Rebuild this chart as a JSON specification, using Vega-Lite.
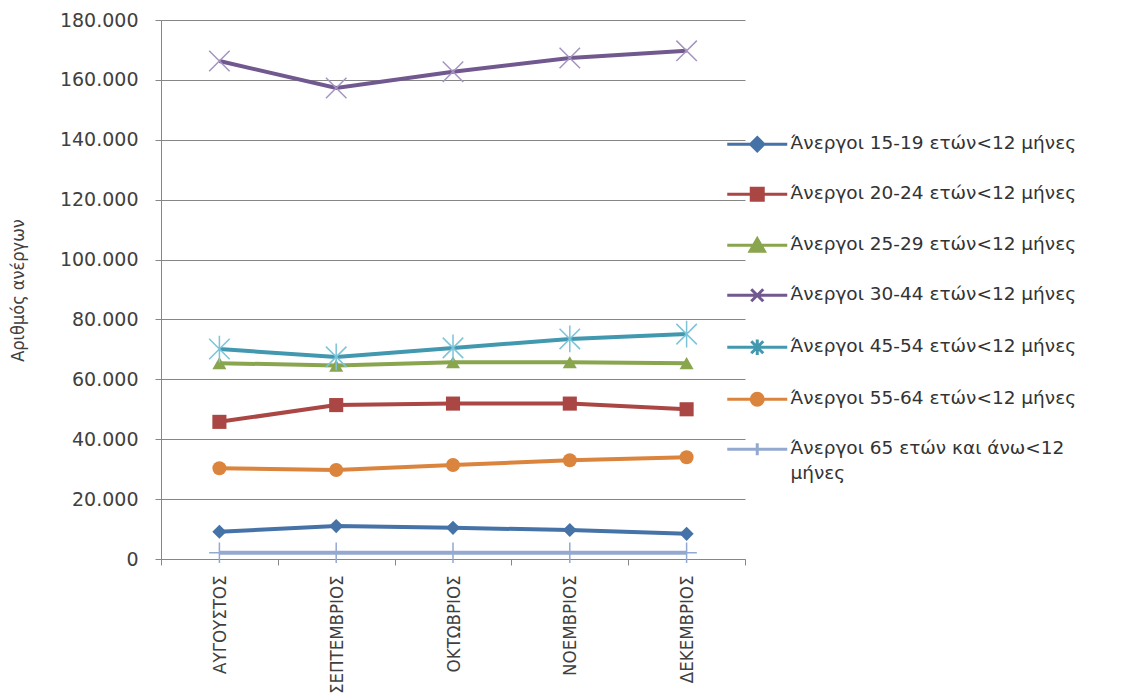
{
  "$schema": "https://vega.github.io/schema/vega-lite/v6.json",
  "autosize": "none",
  "width": 584,
  "height": 539,
  "padding": {"left": 161, "top": 20, "right": 396, "bottom": 134},
  "background": "white",
  "config": {
    "view": {"stroke": null},
    "axis": {"domainColor": "#868686", "tickColor": "#868686", "gridColor": "#868686", "labelColor": "#404040", "titleColor": "#404040"}
  },
  "data": {
    "values": [
      {"month": "ΑΥΓΟΥΣΤΟΣ", "series": "Άνεργοι 15-19 ετών<12 μήνες", "value": 9100},
      {"month": "ΣΕΠΤΕΜΒΡΙΟΣ", "series": "Άνεργοι 15-19 ετών<12 μήνες", "value": 11000},
      {"month": "ΟΚΤΩΒΡΙΟΣ", "series": "Άνεργοι 15-19 ετών<12 μήνες", "value": 10400},
      {"month": "ΝΟΕΜΒΡΙΟΣ", "series": "Άνεργοι 15-19 ετών<12 μήνες", "value": 9700},
      {"month": "ΔΕΚΕΜΒΡΙΟΣ", "series": "Άνεργοι 15-19 ετών<12 μήνες", "value": 8400},
      {"month": "ΑΥΓΟΥΣΤΟΣ", "series": "Άνεργοι 20-24 ετών<12 μήνες", "value": 45800},
      {"month": "ΣΕΠΤΕΜΒΡΙΟΣ", "series": "Άνεργοι 20-24 ετών<12 μήνες", "value": 51400},
      {"month": "ΟΚΤΩΒΡΙΟΣ", "series": "Άνεργοι 20-24 ετών<12 μήνες", "value": 51900},
      {"month": "ΝΟΕΜΒΡΙΟΣ", "series": "Άνεργοι 20-24 ετών<12 μήνες", "value": 51900},
      {"month": "ΔΕΚΕΜΒΡΙΟΣ", "series": "Άνεργοι 20-24 ετών<12 μήνες", "value": 50000},
      {"month": "ΑΥΓΟΥΣΤΟΣ", "series": "Άνεργοι 25-29 ετών<12 μήνες", "value": 65400},
      {"month": "ΣΕΠΤΕΜΒΡΙΟΣ", "series": "Άνεργοι 25-29 ετών<12 μήνες", "value": 64600},
      {"month": "ΟΚΤΩΒΡΙΟΣ", "series": "Άνεργοι 25-29 ετών<12 μήνες", "value": 65700},
      {"month": "ΝΟΕΜΒΡΙΟΣ", "series": "Άνεργοι 25-29 ετών<12 μήνες", "value": 65700},
      {"month": "ΔΕΚΕΜΒΡΙΟΣ", "series": "Άνεργοι 25-29 ετών<12 μήνες", "value": 65400},
      {"month": "ΑΥΓΟΥΣΤΟΣ", "series": "Άνεργοι 30-44 ετών<12 μήνες", "value": 166300},
      {"month": "ΣΕΠΤΕΜΒΡΙΟΣ", "series": "Άνεργοι 30-44 ετών<12 μήνες", "value": 157300},
      {"month": "ΟΚΤΩΒΡΙΟΣ", "series": "Άνεργοι 30-44 ετών<12 μήνες", "value": 162700},
      {"month": "ΝΟΕΜΒΡΙΟΣ", "series": "Άνεργοι 30-44 ετών<12 μήνες", "value": 167300},
      {"month": "ΔΕΚΕΜΒΡΙΟΣ", "series": "Άνεργοι 30-44 ετών<12 μήνες", "value": 169700},
      {"month": "ΑΥΓΟΥΣΤΟΣ", "series": "Άνεργοι 45-54 ετών<12 μήνες", "value": 70100},
      {"month": "ΣΕΠΤΕΜΒΡΙΟΣ", "series": "Άνεργοι 45-54 ετών<12 μήνες", "value": 67500},
      {"month": "ΟΚΤΩΒΡΙΟΣ", "series": "Άνεργοι 45-54 ετών<12 μήνες", "value": 70500},
      {"month": "ΝΟΕΜΒΡΙΟΣ", "series": "Άνεργοι 45-54 ετών<12 μήνες", "value": 73500},
      {"month": "ΔΕΚΕΜΒΡΙΟΣ", "series": "Άνεργοι 45-54 ετών<12 μήνες", "value": 75100},
      {"month": "ΑΥΓΟΥΣΤΟΣ", "series": "Άνεργοι  55-64 ετών<12 μήνες", "value": 30300},
      {"month": "ΣΕΠΤΕΜΒΡΙΟΣ", "series": "Άνεργοι  55-64 ετών<12 μήνες", "value": 29700},
      {"month": "ΟΚΤΩΒΡΙΟΣ", "series": "Άνεργοι  55-64 ετών<12 μήνες", "value": 31400},
      {"month": "ΝΟΕΜΒΡΙΟΣ", "series": "Άνεργοι  55-64 ετών<12 μήνες", "value": 33000},
      {"month": "ΔΕΚΕΜΒΡΙΟΣ", "series": "Άνεργοι  55-64 ετών<12 μήνες", "value": 34000},
      {"month": "ΑΥΓΟΥΣΤΟΣ", "series": "Άνεργοι 65 ετών και άνω<12 μήνες", "value": 2100},
      {"month": "ΣΕΠΤΕΜΒΡΙΟΣ", "series": "Άνεργοι 65 ετών και άνω<12 μήνες", "value": 2100},
      {"month": "ΟΚΤΩΒΡΙΟΣ", "series": "Άνεργοι 65 ετών και άνω<12 μήνες", "value": 2100},
      {"month": "ΝΟΕΜΒΡΙΟΣ", "series": "Άνεργοι 65 ετών και άνω<12 μήνες", "value": 2100},
      {"month": "ΔΕΚΕΜΒΡΙΟΣ", "series": "Άνεργοι 65 ετών και άνω<12 μήνες", "value": 2100}
    ]
  },
  "encoding": {
    "x": {
      "field": "month", "type": "nominal", "sort": null,
      "scale": {"type": "band", "paddingInner": 0, "paddingOuter": 0},
      "axis": {
        "title": null, "grid": false, "tickBand": "extent", "labelAngle": -90,
        "labelFont": "DejaVu Sans Condensed", "labelFontSize": 18.5, "labelPadding": 10,
        "tickSize": 6, "domainColor": "#868686", "labelLimit": 0
      }
    },
    "y": {
      "field": "value", "type": "quantitative",
      "scale": {"domain": [0, 180000], "nice": false},
      "axis": {
        "values": [0, 20000, 40000, 60000, 80000, 100000, 120000, 140000, 160000, 180000],
        "labelExpr": "replace(format(datum.value, ','), ',', '.')",
        "labelFont": "DejaVu Sans", "labelFontSize": 19, "labelPadding": 17, "tickSize": 6,
        "title": "Αριθμός ανέργων", "titleFont": "DejaVu Sans Condensed", "titleFontSize": 18,
        "titleFontWeight": "normal", "titleX": -143, "titleY": 270, "titleAngle": -90,
        "titleAlign": "center", "titleBaseline": "middle"
      }
    }
  },
  "layer": [
    {
      "mark": {"type": "line", "strokeWidth": 4},
      "encoding": {
        "color": {
          "field": "series", "type": "nominal",
          "scale": {
            "domain": ["Άνεργοι 15-19 ετών<12 μήνες", "Άνεργοι 20-24 ετών<12 μήνες", "Άνεργοι 25-29 ετών<12 μήνες", "Άνεργοι 30-44 ετών<12 μήνες", "Άνεργοι 45-54 ετών<12 μήνες", "Άνεργοι  55-64 ετών<12 μήνες", "Άνεργοι 65 ετών και άνω<12 μήνες"],
            "range": ["#4572A7", "#AA4643", "#89A54E", "#71588F", "#4198AF", "#DB843D", "#93A9CF"]
          },
          "legend": {
            "title": null, "orient": "none", "legendX": 587, "legendY": 115, "padding": 0,
            "symbolType": "circle", "symbolSize": 144, "symbolStrokeWidth": 3,
            "labelFont": "DejaVu Sans", "labelFontSize": 18.5, "labelColor": "#333333",
            "labelOffset": 24, "labelLimit": 0, "rowPadding": 25,
            "labelExpr": "datum.label == 'Άνεργοι 65 ετών και άνω<12 μήνες' ? ['Άνεργοι 65 ετών και άνω<12', 'μήνες'] : datum.label",
            "encode": {
              "symbols": {
                "update": {
                  "shape": {"signal": "['M-5,0H5M0,-1.1L1.1,0L0,1.1L-1.1,0Z', 'M-5,0H5M-1,-1H1V1H-1Z', 'M-5,0H5M0,-1.1L1.2,1L-1.2,1Z', 'M-5,0H5M-1,-1L1,1M-1,1L1,-1', 'M-5,0H5M-1,-1L1,1M-1,1L1,-1M0,-1.3V1.3', 'M-5,0H5M-1,0A1,1,0,1,1,1,0A1,1,0,1,1,-1,0Z', 'M-5,0H5M0,-1V1'][indexof(domain('color'), datum.value)]"},
                  "fill": {"scale": "color", "field": "value"},
                  "stroke": {"scale": "color", "field": "value"},
                  "strokeWidth": {"value": 3}
                }
              },
              "labels": {
                "update": {"baseline": {"value": "top"}, "dy": {"value": -10}, "lineHeight": {"value": 25}}
              }
            }
          }
        }
      }
    },
    {
      "transform": [{"filter": "indexof(['Άνεργοι 15-19 ετών<12 μήνες', 'Άνεργοι 20-24 ετών<12 μήνες', 'Άνεργοι 25-29 ετών<12 μήνες', 'Άνεργοι  55-64 ετών<12 μήνες'], datum.series) >= 0"}],
      "mark": {"type": "point", "filled": true, "opacity": 1},
      "encoding": {
        "color": {"field": "series", "type": "nominal", "legend": null},
        "shape": {
          "field": "series", "type": "nominal", "legend": null,
          "scale": {
            "domain": ["Άνεργοι 15-19 ετών<12 μήνες", "Άνεργοι 20-24 ετών<12 μήνες", "Άνεργοι 25-29 ετών<12 μήνες", "Άνεργοι  55-64 ετών<12 μήνες"],
            "range": ["diamond", "square", "triangle-up", "circle"]
          }
        },
        "size": {
          "field": "series", "type": "nominal", "legend": null,
          "scale": {
            "domain": ["Άνεργοι 15-19 ετών<12 μήνες", "Άνεργοι 20-24 ετών<12 μήνες", "Άνεργοι 25-29 ετών<12 μήνες", "Άνεργοι  55-64 ετών<12 μήνες"],
            "range": [200, 196, 220, 225]
          }
        }
      }
    },
    {
      "transform": [{"filter": "indexof(['Άνεργοι 30-44 ετών<12 μήνες', 'Άνεργοι 45-54 ετών<12 μήνες', 'Άνεργοι 65 ετών και άνω<12 μήνες'], datum.series) >= 0"}],
      "mark": {"type": "point", "filled": false, "strokeWidth": 1.5, "opacity": 1},
      "encoding": {
        "stroke": {
          "field": "series", "type": "nominal", "legend": null,
          "scale": {
            "domain": ["Άνεργοι 30-44 ετών<12 μήνες", "Άνεργοι 45-54 ετών<12 μήνες", "Άνεργοι 65 ετών και άνω<12 μήνες"],
            "range": ["#A594C0", "#7CC4D8", "#93A9CF"]
          }
        },
        "shape": {
          "field": "series", "type": "nominal", "legend": null,
          "scale": {
            "domain": ["Άνεργοι 30-44 ετών<12 μήνες", "Άνεργοι 45-54 ετών<12 μήνες", "Άνεργοι 65 ετών και άνω<12 μήνες"],
            "range": ["M-1,-1L1,1M-1,1L1,-1", "M-1,-1L1,1M-1,1L1,-1M0,-1.3V1.3", "M0,-1V1M-1,0H1"]
          }
        },
        "size": {"value": 420}
      }
    }
  ],
  "resolve": {"scale": {"shape": "independent", "size": "independent"}}
}
